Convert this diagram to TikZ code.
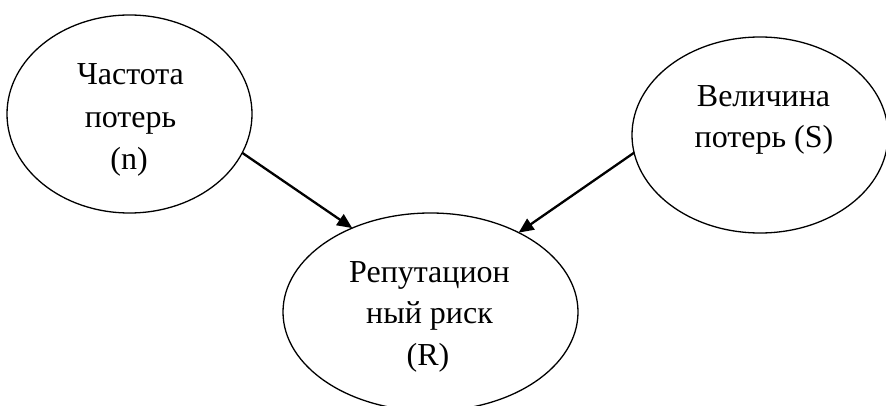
\documentclass[tikz,border=0pt]{standalone}
\usepackage{fontspec}
\setmainfont{Liberation Serif}
\usetikzlibrary{shapes.geometric,arrows.meta}
\tikzset{
  oval/.style={draw, ellipse, line width=1.3pt, inner sep=0pt, outer sep=0pt},
  txt/.style={anchor=base, inner sep=0pt, font=\fontsize{32}{38}\selectfont},
  link/.style={line width=2.3pt, -{Triangle[length=15pt,width=13pt]}}
}
\begin{document}
\begin{tikzpicture}[x=1pt,y=1pt]
  \clip (0,0) rectangle (886,-406);
  \useasboundingbox (0,0) rectangle (886,-406);
  % the three ellipses
  \node[oval, minimum width=245pt, minimum height=198pt] (freq) at (129.5,-114) {};
  \node[oval, minimum width=256pt, minimum height=196pt] (size) at (760,-135) {};
  \node[oval, minimum width=295pt, minimum height=198pt] (risk) at (430.5,-312) {};
  % labels
  \node[txt] (f1) at (130.5,-85) {Частота};
  \node[txt] (f2) at (130.5,-128) {потерь};
  \node[txt] (f3) at (129,-170) {(n)};
  \node[txt] (s1) at (763.5,-107) {Величина};
  \node[txt] (s2) at (764,-148) {потерь (S)};
  \node[txt] (r1) at (429.5,-282) {Репутацион};
  \node[txt] (r2) at (429.5,-323) {ный риск};
  \node[txt] (r3) at (428,-365) {(R)};
  % connectors
  \draw[link] (freq.-19) -- (risk.133);
  \draw[link] (size.188) -- (risk.42);
\end{tikzpicture}
\end{document}
